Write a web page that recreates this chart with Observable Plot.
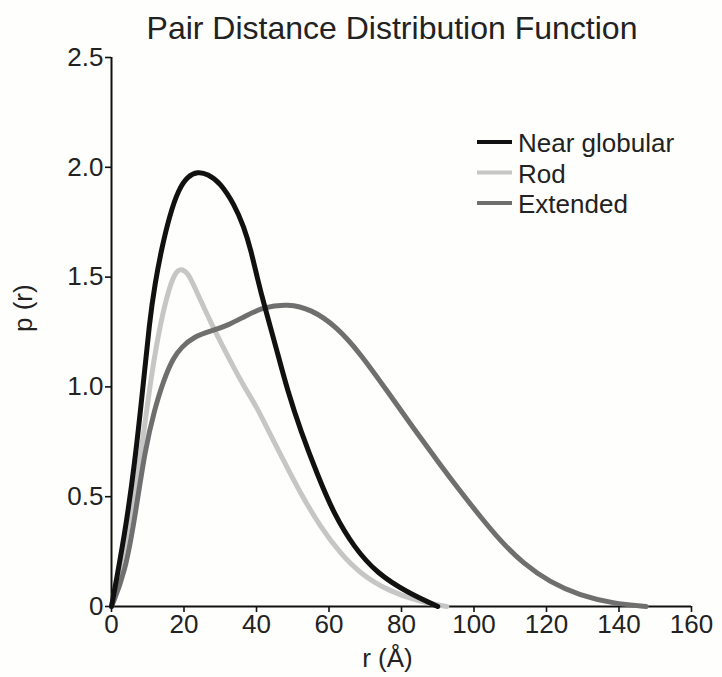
<!DOCTYPE html>
<html>
<head>
<meta charset="utf-8">
<script src="https://cdn.jsdelivr.net/npm/d3@7"></script>
<script src="https://cdn.jsdelivr.net/npm/@observablehq/plot@0.6"></script>
<style>
  html, body { margin: 0; padding: 0; background: #fefefc; }
  #title { height: 50px; box-sizing: border-box; padding-top: 8px; line-height: 40px; text-align: center;
           font-family: "Liberation Sans", Arial, sans-serif; font-size: 32px; color: #222; padding-left: 62px; }
  svg { display: block; overflow: visible; }
</style>
</head>
<body>
<div id="title">Pair Distance Distribution Function</div>
<div id="chart"></div>
<script>
const seriesNames = ["Near globular", "Rod", "Extended"];
const seriesColors = ["#111111", "#c6c6c6", "#6f6f6f"];

const nearR = [0, 3.7, 6.4, 8.7, 10.5, 12, 13.7, 16, 18.5, 21, 23.8, 26.5, 30, 33.9, 36.5, 38.5, 40.3, 42.1, 45.4, 48.6, 52.2, 56.8, 61.4, 66.9, 73.3, 81.5, 90];
const nearP = [0, 0.33, 0.65, 1.0, 1.3, 1.47, 1.62, 1.78, 1.9, 1.96, 1.98, 1.97, 1.93, 1.83, 1.73, 1.62, 1.49, 1.375, 1.18, 0.98, 0.80, 0.60, 0.42, 0.27, 0.15, 0.065, 0];

const rodR = [0, 4, 7.8, 10.5, 13, 15.5, 17.5, 19.1, 21, 22.5, 24.7, 27.5, 31.1, 34, 37, 40, 43, 46.7, 52.2, 57.7, 63.2, 68.7, 76.1, 85.2, 92.5];
const rodP = [0, 0.3, 0.65, 1.0, 1.25, 1.43, 1.52, 1.54, 1.52, 1.47, 1.39, 1.29, 1.17, 1.08, 0.99, 0.91, 0.81, 0.69, 0.513, 0.361, 0.24, 0.149, 0.073, 0.02, 0];

const extR = [0, 3.7, 6.6, 9.2, 11.9, 14.6, 17, 19.2, 22.9, 27.5, 32.1, 36.6, 42.1, 48.6, 55, 62.3, 68.7, 76.1, 83.4, 90.7, 96.2, 101.7, 107.2, 113.6, 121, 129.2, 138.4, 147.5];
const extP = [0, 0.15, 0.42, 0.71, 0.9, 1.04, 1.13, 1.18, 1.23, 1.255, 1.28, 1.32, 1.365, 1.378, 1.355, 1.272, 1.15, 0.98, 0.81, 0.645, 0.525, 0.41, 0.30, 0.195, 0.11, 0.05, 0.014, 0];

const xTicks = [0, 20, 40, 60, 80, 100, 120, 140, 160];
const yTicks = [0, 0.5, 1.0, 1.5, 2.0, 2.5];

const seriesData = [
  {name: seriesNames[0], r: nearR, p: nearP},
  {name: seriesNames[1], r: rodR, p: rodP},
  {name: seriesNames[2], r: extR, p: extP}
];
const rows = [];
for (const s of seriesData) s.r.forEach((r, i) => rows.push({series: s.name, r, p: s.p[i]}));
const drawOrder = [seriesNames[1], seriesNames[2], seriesNames[0]];

const legendMark = (index, scales) => {
  const g = d3.create("svg:g");
  seriesNames.forEach((name, i) => {
    const y = 92 + i * 30.5;
    g.append("line").attr("x1", 477).attr("x2", 512).attr("y1", y).attr("y2", y)
      .attr("stroke", scales.color(name)).attr("stroke-width", 4);
    g.append("text").attr("x", 518).attr("y", y + 10).text(name)
      .attr("fill", "#222").attr("font-size", 26).attr("text-anchor", "start")
      .attr("font-family", "Liberation Sans, Arial, sans-serif");
  });
  return g.node();
};

const chart = Plot.plot({
  width: 722,
  height: 627,
  marginLeft: 111,
  marginRight: 31,
  marginTop: 7,
  marginBottom: 71,
  style: {fontFamily: "Liberation Sans, Arial, sans-serif", fontSize: "26px", color: "#222", background: "transparent"},
  x: {domain: [0, 160]},
  y: {domain: [0, 2.5]},
  color: {domain: seriesNames, range: seriesColors},
  marks: [
    Plot.axisX({ticks: xTicks, tickSize: 6, tickPadding: 2, label: null, fontSize: 26, strokeWidth: 1.6, stroke: "#111"}),
    Plot.axisY({ticks: yTicks, tickSize: 6, tickPadding: 2, label: null, fontSize: 26, strokeWidth: 1.6, stroke: "#111",
                tickFormat: d => d === 0 ? "0" : d.toFixed(1)}),
    Plot.ruleX([0], {stroke: "#111", strokeWidth: 2}),
    Plot.ruleY([0], {stroke: "#111", strokeWidth: 2}),
    ...drawOrder.map(name => Plot.line(rows.filter(d => d.series === name),
      {x: "r", y: "p", stroke: "series", strokeWidth: 5, curve: "basis"})),
    Plot.text(["p (r)"], {frameAnchor: "left", dx: -88, dy: 0, rotate: -90, fontSize: 26, fill: "#222"}),
    Plot.text(["r (Å)"], {frameAnchor: "bottom", dx: -14, dy: 60, fontSize: 26, fill: "#222"}),
    legendMark
  ]
});
document.getElementById("chart").appendChild(chart);
</script>
</body>
</html>
